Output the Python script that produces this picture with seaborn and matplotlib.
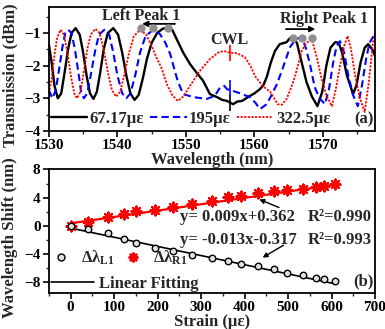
import numpy as np
import pandas as pd
import matplotlib
matplotlib.use("Agg")
import matplotlib.pyplot as plt
from matplotlib.lines import Line2D
from matplotlib.ticker import MultipleLocator
import seaborn as sns

# ---- spectra (panel a) ----
wl_67 = [1530.0, 1530.4, 1530.8, 1531.3, 1531.8, 1532.3, 1532.8, 1533.3, 1533.9, 1534.5,
         1535.0, 1535.5, 1536.0, 1536.5, 1537.0, 1537.5, 1538.0, 1538.6, 1539.4, 1540.1,
         1540.7, 1541.3, 1541.9, 1542.5, 1543.1, 1543.7, 1544.3, 1545.0, 1545.8, 1546.6,
         1547.4, 1548.0, 1548.8, 1549.6, 1550.6, 1551.5, 1552.5, 1553.5, 1554.5, 1555.3,
         1556.0, 1556.9, 1557.5, 1558.2, 1559.3, 1560.0, 1560.8, 1561.3, 1561.8, 1562.4,
         1563.0, 1563.7, 1564.7, 1565.2, 1565.6, 1566.2, 1566.9, 1567.6, 1568.4, 1569.2,
         1569.9, 1570.5, 1571.1, 1571.8, 1572.3, 1572.8, 1573.5, 1574.4, 1574.9, 1575.5,
         1576.1, 1576.6, 1577.2, 1577.6]
tr_67 = [-1.35, -1.9, -2.6, -3.0, -2.85, -2.2, -1.5, -1.0, -0.85, -1.05,
         -1.6, -2.3, -2.85, -3.02, -2.8, -2.2, -1.5, -1.0, -0.85, -1.05,
         -1.6, -2.3, -2.85, -3.05, -2.9, -2.4, -1.8, -1.3, -1.0, -0.87,
         -0.83, -0.9, -1.25, -1.6, -1.95, -2.2, -2.46, -2.87, -2.96, -3.05,
         -3.08, -3.18, -3.1, -3.08, -2.93, -2.85, -2.72, -2.6, -2.35, -1.9,
         -1.55, -1.34, -1.28, -1.15, -1.12, -1.3, -1.9, -2.5, -2.95, -3.24,
         -2.8, -2.0, -1.45, -1.28, -1.3, -1.6, -2.3, -2.87, -2.6, -1.9,
         -1.45, -1.34, -1.5, -1.7]

wl_195 = [1530.0, 1530.5, 1531.0, 1531.5, 1532.0, 1532.4, 1532.8, 1533.3, 1533.8, 1534.3,
          1534.7, 1535.1, 1535.6, 1536.1, 1536.7, 1537.3, 1538.1, 1538.8, 1539.4, 1540.0,
          1540.7, 1541.3, 1541.9, 1542.6, 1543.3, 1544.1, 1545.2, 1546.2, 1547.0, 1547.7,
          1548.3, 1548.8, 1549.6, 1551.0, 1553.0, 1554.2, 1554.6, 1555.0, 1555.6, 1556.0,
          1557.4, 1559.3, 1560.2, 1560.8, 1561.8, 1562.5, 1563.3, 1564.2, 1565.2, 1566.0,
          1566.9, 1567.5, 1568.1, 1568.8, 1569.5, 1570.3, 1570.9, 1571.5, 1572.0, 1572.5,
          1573.1, 1573.7, 1574.4, 1575.1, 1575.7, 1576.3, 1576.8, 1577.3, 1577.6]
tr_195 = [-2.75, -3.0, -2.75, -2.1, -1.4, -1.0, -0.9, -1.0, -1.5, -2.2,
          -2.8, -3.0, -2.85, -2.3, -1.6, -1.05, -0.9, -1.05, -1.6, -2.3,
          -2.85, -3.0, -2.85, -2.3, -1.6, -1.1, -0.9, -1.03, -1.3, -1.64,
          -2.1, -2.47, -2.87, -2.96, -3.02, -2.93, -2.8, -2.66, -2.62, -2.72,
          -2.81, -2.96, -3.15, -3.33, -3.18, -2.9, -2.56, -2.04, -1.43, -1.2,
          -1.12, -1.45, -1.95, -2.66, -3.0, -3.18, -2.7, -1.9, -1.4, -1.25,
          -1.6, -2.3, -2.9, -3.24, -2.6, -1.8, -1.3, -1.12, -1.2]

wl_322 = [1530.0, 1530.4, 1530.8, 1531.2, 1531.7, 1532.2, 1532.7, 1533.2, 1533.7, 1534.1,
          1534.6, 1535.1, 1535.6, 1536.1, 1536.8, 1537.4, 1538.0, 1538.6, 1539.2, 1539.8,
          1540.4, 1541.0, 1541.7, 1542.4, 1543.3, 1544.2, 1545.0, 1545.7, 1546.4, 1547.2,
          1548.0, 1548.8, 1549.6, 1550.6, 1552.0, 1553.5, 1554.7, 1555.5, 1556.4, 1557.5,
          1558.6, 1559.4, 1560.1, 1561.2, 1562.3, 1563.4, 1564.0, 1564.7, 1565.3, 1565.9,
          1566.9, 1567.6, 1568.4, 1569.1, 1569.8, 1570.5, 1571.3, 1571.9, 1572.5, 1573.1,
          1573.6, 1574.1, 1574.7, 1575.4, 1576.1, 1576.7, 1577.3, 1577.6]
tr_322 = [-2.85, -2.4, -1.7, -1.15, -0.9, -1.05, -1.6, -2.3, -2.85, -3.0,
          -2.8, -2.2, -1.5, -1.05, -0.87, -1.0, -1.5, -2.2, -2.75, -2.95,
          -2.8, -2.3, -1.6, -1.1, -0.9, -1.05, -1.4, -1.75, -2.05, -2.56,
          -2.9, -3.08, -2.95, -2.62, -2.17, -1.8, -1.6, -1.55, -1.6, -1.62,
          -1.74, -2.0, -2.32, -2.62, -2.8, -3.18, -3.2, -3.02, -2.7, -2.35,
          -1.55, -1.3, -1.2, -1.74, -2.4, -2.9, -3.24, -2.7, -2.0, -1.4,
          -1.09, -1.5, -2.3, -3.0, -3.42, -2.5, -1.3, -1.0]

# peak tracking markers and CWL ticks
left_peaks = [1543.5, 1545.2, 1547.4]
right_peaks = [1565.6, 1566.9, 1568.4]
cwl = 1556.4
cwl_levels = [-3.15, -2.68, -1.6]   # black, blue, red

# ---- wavelength shift (panel b) ----
strain = [0, 39, 87, 122, 151, 195, 236, 278, 325, 363, 392, 431, 468, 498, 534, 564, 583, 608]
shift_R1 = [0.0, 0.48, 1.19, 1.66, 2.09, 2.24, 2.7, 3.04, 3.51, 4.04, 4.27, 4.61, 4.94, 5.08,
            5.22, 5.46, 5.65, 5.93]
shift_L1 = [0.0, -0.47, -1.0, -1.9, -2.42, -3.08, -3.55, -4.07, -4.55, -4.98, -5.45, -5.73,
            -6.16, -6.68, -7.01, -7.34, -7.49, -7.87]
fit_R1 = (0.009, 0.362)
fit_L1 = (-0.013, -0.317)

sns.set_theme(style="ticks")
plt.rcParams["font.family"] = ["Liberation Serif", "DejaVu Serif"]
plt.rcParams["font.weight"] = "bold"
plt.rcParams["axes.labelweight"] = "bold"
plt.rcParams["mathtext.fontset"] = "custom"
plt.rcParams["mathtext.rm"] = "Liberation Serif:bold"
plt.rcParams["mathtext.it"] = "Liberation Serif:bold"
plt.rcParams["mathtext.bf"] = "Liberation Serif:bold"

fig = plt.figure(figsize=(3.85, 3.29), dpi=100)
ax1 = fig.add_axes([0.127, 0.602, 0.847, 0.377])
ax2 = fig.add_axes([0.127, 0.110, 0.847, 0.375])

for ax in (ax1, ax2):
    for s in ax.spines.values():
        s.set_linewidth(1.3)
        s.set_color("black")
    ax.tick_params(which="major", direction="out", length=4, width=1.2, pad=2,
                   labelsize=11, colors="black")
    ax.tick_params(which="minor", direction="out", length=2.5, width=1.0)

# panel a
sns.lineplot(x=wl_67, y=tr_67, ax=ax1, color="black", lw=1.7, estimator=None, sort=False)
sns.lineplot(x=wl_195, y=tr_195, ax=ax1, color="#0000ff", lw=1.5, estimator=None, sort=False,
             linestyle=(0, (3.5, 2)))
sns.lineplot(x=wl_322, y=tr_322, ax=ax1, color="#ff0000", lw=1.3, estimator=None, sort=False,
             linestyle=(0, (1.2, 0.8)))

ax1.plot(left_peaks, [-0.85] * 3, "o", color="#909090", ms=5, zorder=5)
ax1.plot(right_peaks, [-1.15] * 3, "o", color="#909090", ms=5, zorder=5)
ax1.annotate("", xy=(1543.2, -0.72), xytext=(1548.8, -0.72),
             arrowprops=dict(arrowstyle="-|>", color="black", lw=1.3, mutation_scale=8))
ax1.annotate("", xy=(1569.3, -0.88), xytext=(1564.2, -0.88),
             arrowprops=dict(arrowstyle="-|>", color="black", lw=1.3, mutation_scale=8))
ax1.text(1543.5, -0.47, "Left Peak 1", ha="center", va="center", fontsize=11.5, fontweight="bold")
ax1.text(1570.1, -0.57, "Right Peak 1", ha="center", va="center", fontsize=11.5, fontweight="bold")
ax1.text(cwl, -1.2, "CWL", ha="center", va="center", fontsize=11.5, fontweight="bold")
for lev, c in zip(cwl_levels, ["black", "#0000ff", "#ff0000"]):
    ax1.plot([cwl], [lev], marker="|", color=c, ms=11, mew=1.2)

handles_a = [Line2D([], [], color="black", lw=1.7),
             Line2D([], [], color="#0000ff", lw=1.5, linestyle=(0, (3.5, 2))),
             Line2D([], [], color="#ff0000", lw=1.3, linestyle=(0, (1.2, 0.8)))]
ax1.legend(handles_a, ["67.17\u03bc\u03b5", "195\u03bc\u03b5", "322.5\u03bc\u03b5"],
           ncol=3, frameon=False, fontsize=12, handlelength=2.2, handletextpad=0.15,
           columnspacing=0.35, loc="center left", bbox_to_anchor=(0.0, 0.1),
           borderaxespad=0, borderpad=0.1)
ax1.text(0.995, 0.03, "(a)", transform=ax1.transAxes, ha="right", va="bottom", fontsize=12,
         fontweight="bold")

ax1.set_xlim(1530, 1577.6)
ax1.set_ylim(-4, -0.2)
ax1.set_xticks([1530, 1540, 1550, 1560, 1570])
ax1.set_yticks([-4, -3, -2, -1])
ax1.xaxis.set_minor_locator(MultipleLocator(5))
ax1.yaxis.set_minor_locator(MultipleLocator(0.5))
ax1.set_xlabel("Wavelength (nm)", fontsize=12, labelpad=0)
ax1.set_ylabel("Transmission (dBm)", fontsize=12)
ax1.yaxis.set_label_coords(-0.095, 0.45)

# panel b
xs = np.array([strain[0], strain[-1]])
sns.lineplot(x=xs, y=fit_R1[0] * xs + fit_R1[1], ax=ax2, color="#ff0000", lw=1.6)
sns.lineplot(x=xs, y=fit_L1[0] * xs + fit_L1[1], ax=ax2, color="black", lw=1.2)
sns.scatterplot(x=strain, y=shift_R1, ax=ax2, marker=(8, 2, 0), s=50, color="#ff0000",
                linewidth=1.6, zorder=4)
sns.scatterplot(x=strain, y=shift_L1, ax=ax2, marker="o", s=22, facecolor="#e0e0e0",
                edgecolor="black", linewidth=1.0, zorder=4)

ax2.text(252, 1.24, "y= 0.009x+0.362", ha="left", va="center", fontsize=12, fontweight="bold")
ax2.text(546, 1.24, "R\u00b2=0.990", ha="left", va="center", fontsize=12, fontweight="bold")
ax2.text(252, -2.04, "y= -0.013x-0.317", ha="left", va="center", fontsize=12, fontweight="bold")
ax2.text(546, -2.04, "R\u00b2=0.993", ha="left", va="center", fontsize=12, fontweight="bold")
ax2.annotate("", xy=(428, 3.9), xytext=(485, 2.45),
             arrowprops=dict(arrowstyle="-|>", color="black", lw=1.0, mutation_scale=7))
ax2.annotate("", xy=(436, -4.7), xytext=(495, -2.55),
             arrowprops=dict(arrowstyle="-|>", color="black", lw=1.0, mutation_scale=7))

mk = [Line2D([], [], linestyle="", marker="o", ms=5, mfc="#e0e0e0", mec="black", mew=1.0),
      Line2D([], [], linestyle="", marker=(8, 2, 0), ms=7, color="#ff0000", mew=1.6)]
leg1 = ax2.legend(mk, ["\u0394\u03bb$_{\\rm L1}$", "\u0394\u03bb$_{\\rm R1}$"], ncol=2,
                  frameon=False, fontsize=12, handlelength=1.2, handletextpad=0.6,
                  columnspacing=0.5, loc="center left", bbox_to_anchor=(0.0, 0.28),
                  borderaxespad=0, borderpad=0.1)
ax2.add_artist(leg1)
ax2.legend([Line2D([], [], color="black", lw=1.2)], ["Linear Fitting"], frameon=False,
           fontsize=12, handlelength=2.6, handletextpad=0.3, loc="center left",
           bbox_to_anchor=(0.0, 0.07), borderaxespad=0, borderpad=0.1)
ax2.text(0.995, 0.03, "(b)", transform=ax2.transAxes, ha="right", va="bottom", fontsize=12,
         fontweight="bold")

ax2.set_xlim(-50, 700)
ax2.set_ylim(-9.5, 8)
ax2.set_xticks(range(0, 701, 100))
ax2.set_yticks([-8, -4, 0, 4, 8])
ax2.xaxis.set_minor_locator(MultipleLocator(50))
ax2.yaxis.set_minor_locator(MultipleLocator(2))
ax2.set_xlabel("Strain (\u03bc\u03b5)", fontsize=12, labelpad=0)
ax2.set_ylabel("Wavelength Shift (nm)", fontsize=12)
ax2.yaxis.set_label_coords(-0.095, 0.45)

fig.savefig("out.png", dpi=100)
